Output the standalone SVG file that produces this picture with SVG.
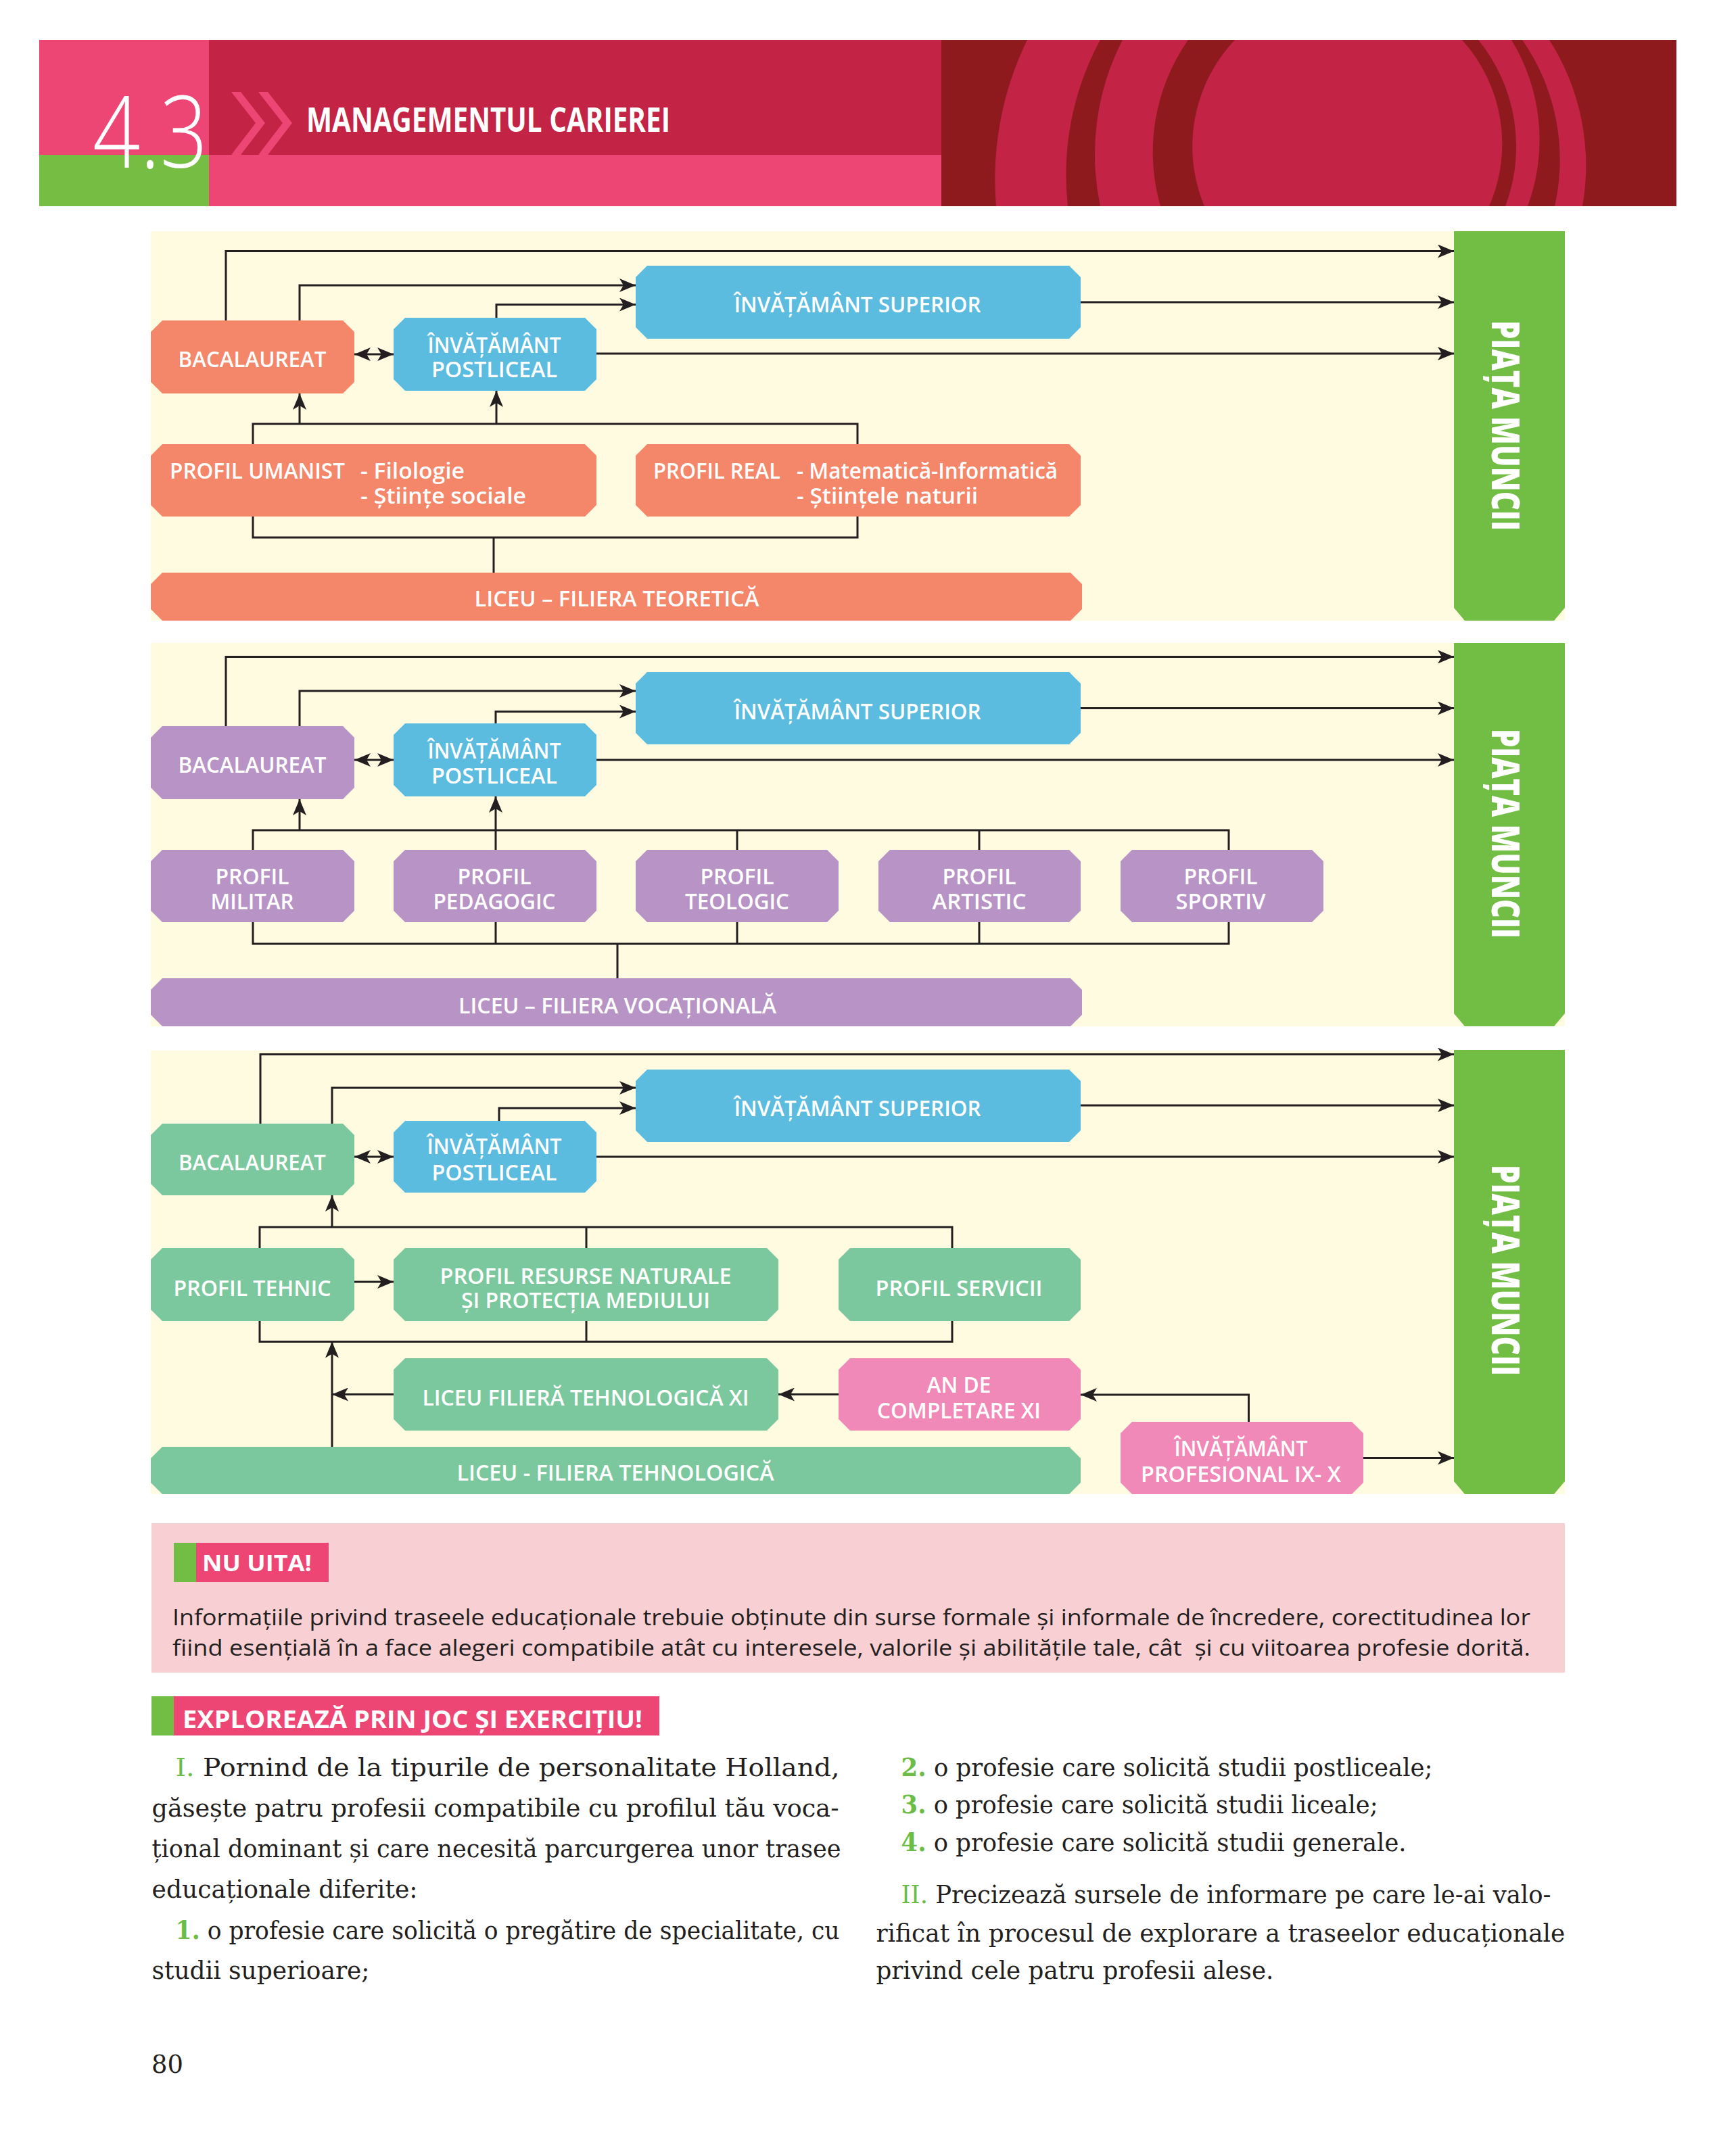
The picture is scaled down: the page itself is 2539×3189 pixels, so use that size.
<svg xmlns="http://www.w3.org/2000/svg" width="2539" height="3189" viewBox="0 0 2539 3189">
<defs>
<style>
.bg{fill:#FFFFFF}
.cream{fill:#FEFBE0}
.sal{fill:#F4866A}
.blu{fill:#5BBCDF}
.pur{fill:#B794C5}
.min{fill:#7CC89E}
.pnk{fill:#F089B7}
.gbar{fill:#72BE45}
.lab{font-family:"Open Sans","Noto Sans","Liberation Sans",sans-serif;font-weight:600;font-size:33px;fill:#FFFFFF;text-anchor:middle}
.labs{font-family:"Open Sans","Noto Sans","Liberation Sans",sans-serif;font-weight:600;font-size:33px;fill:#FFFFFF}
.pm{font-family:"Open Sans","Liberation Sans",sans-serif;font-weight:800;font-size:56px;fill:#FFFFFF}
.ln{fill:none;stroke:#231F20;stroke-width:3}
.body{font-family:"DejaVu Serif","Liberation Serif",serif;font-size:37px;fill:#231F20}
.num{fill:#6CBD45}
.note{font-family:"Open Sans","Noto Sans","Liberation Sans",sans-serif;font-size:32px;fill:#231F20}
.hd{font-family:"Open Sans","Liberation Sans",sans-serif;font-weight:700;fill:#FFFFFF}
</style>
<marker id="ah" viewBox="0 0 24 20" refX="24" refY="10" markerWidth="24" markerHeight="20" markerUnits="userSpaceOnUse" orient="auto-start-reverse">
<path d="M0,0 L24,10 L0,20 L6,10 Z" fill="#231F20"/>
</marker>
</defs>
<rect class="bg" x="0" y="0" width="2539" height="3189"/>

<!-- HEADER -->
<g id="header">
<rect x="58" y="59" width="251" height="170" fill="#EE4674"/>
<rect x="58" y="229" width="251" height="76" fill="#75BE43"/>
<rect x="309" y="59" width="1083" height="170" fill="#C32344"/>
<rect x="309" y="229" width="1083" height="76" fill="#EE4674"/>
<rect x="1392" y="59" width="1087" height="246" fill="#8E1A1E"/>
<path d="M1519,59 A470,470 0 0,0 1473,305 L1579,305 A420,420 0 0,1 1627,59 Z" fill="#C32344"/>
<path d="M1660,59 A370,370 0 0,0 1627,305 L1716,305 A290,290 0 0,1 1757,59 Z" fill="#C32344"/>
<path d="M1826,59 A229,229 0 0,0 1781,305 L2202,305 A229,229 0 0,0 2162,59 Z" fill="#C32344"/>
<path d="M2186,59 A250,250 0 0,1 2226,305 L2259,305 A283,283 0 0,0 2235,59 Z" fill="#C32344"/>
<path d="M2251,59 A310,310 0 0,1 2299,305 L2340,305 A345,345 0 0,0 2291,59 Z" fill="#C32344"/>
<polygon points="342,136 356,136 392,182 356,229 342,229 378,182" fill="#EE4674"/>
<polygon points="382,136 396,136 432,182 396,229 382,229 418,182" fill="#EE4674"/>
<text x="137" y="248" font-family="'Open Sans','Liberation Sans',sans-serif" font-weight="300" font-size="148" fill="#FFFFFF" textLength="170" lengthAdjust="spacingAndGlyphs">4.3</text>
<text class="hd" x="453" y="195" font-size="50" textLength="538" lengthAdjust="spacingAndGlyphs">MANAGEMENTUL CARIEREI</text>
</g>

<!-- SECTION BACKGROUNDS -->
<rect class="cream" x="223" y="342" width="2091" height="576"/>
<rect class="cream" x="223" y="951" width="2091" height="567"/>
<rect class="cream" x="223" y="1554" width="2091" height="656"/>

<!-- CONNECTORS -->
<g id="connectors">
<!-- section 1 -->
<path class="ln" d="M334,474 V371.5 H2150" marker-end="url(#ah)"/>
<path class="ln" d="M443,474 V422 H940" marker-end="url(#ah)"/>
<path class="ln" d="M734,470 V450.5 H940" marker-end="url(#ah)"/>
<path class="ln" d="M1598,447 H2150" marker-end="url(#ah)"/>
<path class="ln" d="M882,523 H2150" marker-end="url(#ah)"/>
<path class="ln" d="M524,524 H582" marker-start="url(#ah)" marker-end="url(#ah)"/>
<path class="ln" d="M443,627 V582" marker-end="url(#ah)"/>
<path class="ln" d="M734,627 V578" marker-end="url(#ah)"/>
<path class="ln" d="M374,657 V627 H1268 V657"/>
<path class="ln" d="M374,764 V795 H1268 V764"/>
<path class="ln" d="M730,795 V847"/>
<!-- section 2 -->
<path class="ln" d="M334,1074 V971.5 H2150" marker-end="url(#ah)"/>
<path class="ln" d="M443,1074 V1022 H940" marker-end="url(#ah)"/>
<path class="ln" d="M733,1070 V1052.5 H940" marker-end="url(#ah)"/>
<path class="ln" d="M1598,1047.5 H2150" marker-end="url(#ah)"/>
<path class="ln" d="M882,1124 H2150" marker-end="url(#ah)"/>
<path class="ln" d="M524,1124 H582" marker-start="url(#ah)" marker-end="url(#ah)"/>
<path class="ln" d="M443,1228 V1182" marker-end="url(#ah)"/>
<path class="ln" d="M733,1257 V1178" marker-end="url(#ah)"/>
<path class="ln" d="M374,1257 V1228 H1817 V1257"/>
<path class="ln" d="M1090,1228 V1257"/>
<path class="ln" d="M1448,1228 V1257"/>
<path class="ln" d="M374,1364 V1396 H1817 V1364"/>
<path class="ln" d="M733,1364 V1396"/>
<path class="ln" d="M1090,1364 V1396"/>
<path class="ln" d="M1448,1364 V1396"/>
<path class="ln" d="M913,1396 V1447"/>
<!-- section 3 -->
<path class="ln" d="M385,1662 V1559.5 H2150" marker-end="url(#ah)"/>
<path class="ln" d="M491,1662 V1609 H940" marker-end="url(#ah)"/>
<path class="ln" d="M738,1658 V1639 H940" marker-end="url(#ah)"/>
<path class="ln" d="M1598,1635 H2150" marker-end="url(#ah)"/>
<path class="ln" d="M882,1711 H2150" marker-end="url(#ah)"/>
<path class="ln" d="M524,1711 H582" marker-start="url(#ah)" marker-end="url(#ah)"/>
<path class="ln" d="M491,1815 V1768" marker-end="url(#ah)"/>
<path class="ln" d="M384,1846 V1815 H1408 V1846"/>
<path class="ln" d="M867,1815 V1846"/>
<path class="ln" d="M524,1896 H582" marker-end="url(#ah)"/>
<path class="ln" d="M384,1954 V1984.5 H1408 V1954"/>
<path class="ln" d="M867,1954 V1984.5"/>
<path class="ln" d="M491,2140 V1984.5" marker-end="url(#ah)"/>
<path class="ln" d="M582,2062.5 H491" marker-end="url(#ah)"/>
<path class="ln" d="M1240,2062.5 H1151" marker-end="url(#ah)"/>
<path class="ln" d="M1846.5,2103 V2063 H1598" marker-end="url(#ah)"/>
<path class="ln" d="M2016,2156.5 H2150" marker-end="url(#ah)"/>
</g>

<!-- SECTION 1 NODES -->
<g id="s1-superior">
<polygon class="blu" points="957,393 1581,393 1598,410 1598,484 1581,501 957,501 940,484 940,410"/>
<text class="lab" x="1268" y="462" textLength="365" lengthAdjust="spacingAndGlyphs">ÎNVĂȚĂMÂNT SUPERIOR</text>
</g>
<g id="s1-postliceal">
<polygon class="blu" points="599,470 865,470 882,487 882,561 865,578 599,578 582,561 582,487"/>
<text class="lab" x="731" y="522" textLength="197" lengthAdjust="spacingAndGlyphs">ÎNVĂȚĂMÂNT</text>
<text class="lab" x="731" y="558" textLength="186" lengthAdjust="spacingAndGlyphs">POSTLICEAL</text>
</g>
<g id="s1-bac">
<polygon class="sal" points="240,474 507,474 524,491 524,565 507,582 240,582 223,565 223,491"/>
<text class="lab" x="373" y="543" textLength="219" lengthAdjust="spacingAndGlyphs">BACALAUREAT</text>
</g>
<g id="s1-umanist">
<polygon class="sal" points="240,657 865,657 882,674 882,747 865,764 240,764 223,747 223,674"/>
<text class="labs" x="251" y="708" textLength="259" lengthAdjust="spacingAndGlyphs">PROFIL UMANIST</text>
<text class="labs" x="533" y="708" textLength="154" lengthAdjust="spacingAndGlyphs">- Filologie</text>
<text class="labs" x="533" y="745" textLength="245" lengthAdjust="spacingAndGlyphs">- Științe sociale</text>
</g>
<g id="s1-real">
<polygon class="sal" points="957,657 1581,657 1598,674 1598,747 1581,764 957,764 940,747 940,674"/>
<text class="labs" x="966" y="708" textLength="188" lengthAdjust="spacingAndGlyphs">PROFIL REAL</text>
<text class="labs" x="1178" y="708" textLength="386" lengthAdjust="spacingAndGlyphs">- Matematică-Informatică</text>
<text class="labs" x="1178" y="745" textLength="268" lengthAdjust="spacingAndGlyphs">- Științele naturii</text>
</g>
<g id="s1-liceu">
<polygon class="sal" points="240,847 1583,847 1600,864 1600,901 1583,918 240,918 223,901 223,864"/>
<text class="lab" x="912" y="897" textLength="421" lengthAdjust="spacingAndGlyphs">LICEU – FILIERA TEORETICĂ</text>
</g>
<g id="s1-piata">
<polygon class="gbar" points="2150,342 2314,342 2314,899 2298,918 2166,918 2150,899"/>
<text class="pm" transform="translate(2206,474) rotate(90)" x="0" y="0" textLength="311" lengthAdjust="spacingAndGlyphs">PIAȚA MUNCII</text>
</g>

<!-- SECTION 2 NODES -->
<g id="s2-superior">
<polygon class="blu" points="957,994 1581,994 1598,1011 1598,1084 1581,1101 957,1101 940,1084 940,1011"/>
<text class="lab" x="1268" y="1064" textLength="365" lengthAdjust="spacingAndGlyphs">ÎNVĂȚĂMÂNT SUPERIOR</text>
</g>
<g id="s2-postliceal">
<polygon class="blu" points="599,1070 865,1070 882,1087 882,1161 865,1178 599,1178 582,1161 582,1087"/>
<text class="lab" x="731" y="1122" textLength="197" lengthAdjust="spacingAndGlyphs">ÎNVĂȚĂMÂNT</text>
<text class="lab" x="731" y="1159" textLength="186" lengthAdjust="spacingAndGlyphs">POSTLICEAL</text>
</g>
<g id="s2-bac">
<polygon class="pur" points="240,1074 507,1074 524,1091 524,1165 507,1182 240,1182 223,1165 223,1091"/>
<text class="lab" x="373" y="1143" textLength="219" lengthAdjust="spacingAndGlyphs">BACALAUREAT</text>
</g>
<g id="s2-militar">
<polygon class="pur" points="240,1257 507,1257 524,1274 524,1347 507,1364 240,1364 223,1347 223,1274"/>
<text class="lab" x="373" y="1308" textLength="109" lengthAdjust="spacingAndGlyphs">PROFIL</text>
<text class="lab" x="373" y="1345" textLength="123" lengthAdjust="spacingAndGlyphs">MILITAR</text>
</g>
<g id="s2-pedagogic">
<polygon class="pur" points="599,1257 865,1257 882,1274 882,1347 865,1364 599,1364 582,1347 582,1274"/>
<text class="lab" x="731" y="1308" textLength="109" lengthAdjust="spacingAndGlyphs">PROFIL</text>
<text class="lab" x="731" y="1345" textLength="181" lengthAdjust="spacingAndGlyphs">PEDAGOGIC</text>
</g>
<g id="s2-teologic">
<polygon class="pur" points="957,1257 1223,1257 1240,1274 1240,1347 1223,1364 957,1364 940,1347 940,1274"/>
<text class="lab" x="1090" y="1308" textLength="109" lengthAdjust="spacingAndGlyphs">PROFIL</text>
<text class="lab" x="1090" y="1345" textLength="154" lengthAdjust="spacingAndGlyphs">TEOLOGIC</text>
</g>
<g id="s2-artistic">
<polygon class="pur" points="1316,1257 1581,1257 1598,1274 1598,1347 1581,1364 1316,1364 1299,1347 1299,1274"/>
<text class="lab" x="1448" y="1308" textLength="109" lengthAdjust="spacingAndGlyphs">PROFIL</text>
<text class="lab" x="1448" y="1345" textLength="139" lengthAdjust="spacingAndGlyphs">ARTISTIC</text>
</g>
<g id="s2-sportiv">
<polygon class="pur" points="1674,1257 1940,1257 1957,1274 1957,1347 1940,1364 1674,1364 1657,1347 1657,1274"/>
<text class="lab" x="1805" y="1308" textLength="109" lengthAdjust="spacingAndGlyphs">PROFIL</text>
<text class="lab" x="1805" y="1345" textLength="133" lengthAdjust="spacingAndGlyphs">SPORTIV</text>
</g>
<g id="s2-liceu">
<polygon class="pur" points="240,1447 1583,1447 1600,1464 1600,1501 1583,1518 240,1518 223,1501 223,1464"/>
<text class="lab" x="913" y="1499" textLength="470" lengthAdjust="spacingAndGlyphs">LICEU – FILIERA VOCAȚIONALĂ</text>
</g>
<g id="s2-piata">
<polygon class="gbar" points="2150,951 2314,951 2314,1499 2298,1518 2166,1518 2150,1499"/>
<text class="pm" transform="translate(2206,1078) rotate(90)" x="0" y="0" textLength="310" lengthAdjust="spacingAndGlyphs">PIAȚA MUNCII</text>
</g>

<!-- SECTION 3 NODES -->
<g id="s3-superior">
<polygon class="blu" points="957,1582 1581,1582 1598,1599 1598,1672 1581,1689 957,1689 940,1672 940,1599"/>
<text class="lab" x="1268" y="1651" textLength="365" lengthAdjust="spacingAndGlyphs">ÎNVĂȚĂMÂNT SUPERIOR</text>
</g>
<g id="s3-postliceal">
<polygon class="blu" points="599,1658 865,1658 882,1675 882,1747 865,1764 599,1764 582,1747 582,1675"/>
<text class="lab" x="731" y="1707" textLength="199" lengthAdjust="spacingAndGlyphs">ÎNVĂȚĂMÂNT</text>
<text class="lab" x="731" y="1746" textLength="185" lengthAdjust="spacingAndGlyphs">POSTLICEAL</text>
</g>
<g id="s3-bac">
<polygon class="min" points="240,1662 507,1662 524,1679 524,1751 507,1768 240,1768 223,1751 223,1679"/>
<text class="lab" x="373" y="1731" textLength="218" lengthAdjust="spacingAndGlyphs">BACALAUREAT</text>
</g>
<g id="s3-tehnic">
<polygon class="min" points="240,1846 507,1846 524,1863 524,1937 507,1954 240,1954 223,1937 223,1863"/>
<text class="lab" x="373" y="1917" textLength="233" lengthAdjust="spacingAndGlyphs">PROFIL TEHNIC</text>
</g>
<g id="s3-resurse">
<polygon class="min" points="599,1846 1134,1846 1151,1863 1151,1937 1134,1954 599,1954 582,1937 582,1863"/>
<text class="lab" x="866" y="1899" textLength="431" lengthAdjust="spacingAndGlyphs">PROFIL RESURSE NATURALE</text>
<text class="lab" x="866" y="1935" textLength="368" lengthAdjust="spacingAndGlyphs">ȘI PROTECȚIA MEDIULUI</text>
</g>
<g id="s3-servicii">
<polygon class="min" points="1257,1846 1581,1846 1598,1863 1598,1937 1581,1954 1257,1954 1240,1937 1240,1863"/>
<text class="lab" x="1418" y="1917" textLength="247" lengthAdjust="spacingAndGlyphs">PROFIL SERVICII</text>
</g>
<g id="s3-liceu-xi">
<polygon class="min" points="599,2009 1134,2009 1151,2026 1151,2099 1134,2116 599,2116 582,2099 582,2026"/>
<text class="lab" x="866" y="2079" textLength="483" lengthAdjust="spacingAndGlyphs">LICEU FILIERĂ TEHNOLOGICĂ XI</text>
</g>
<g id="s3-an-completare">
<polygon class="pnk" points="1257,2009 1581,2009 1598,2026 1598,2099 1581,2116 1257,2116 1240,2099 1240,2026"/>
<text class="lab" x="1418" y="2060" textLength="95" lengthAdjust="spacingAndGlyphs">AN DE</text>
<text class="lab" x="1418" y="2098" textLength="242" lengthAdjust="spacingAndGlyphs">COMPLETARE XI</text>
</g>
<g id="s3-profesional">
<polygon class="pnk" points="1674,2103 1999,2103 2016,2120 2016,2193 1999,2210 1674,2210 1657,2193 1657,2120"/>
<text class="lab" x="1835" y="2154" textLength="197" lengthAdjust="spacingAndGlyphs">ÎNVĂȚĂMÂNT</text>
<text class="lab" x="1835" y="2192" textLength="296" lengthAdjust="spacingAndGlyphs">PROFESIONAL IX- X</text>
</g>
<g id="s3-liceu">
<polygon class="min" points="240,2140 1581,2140 1598,2157 1598,2193 1581,2210 240,2210 223,2193 223,2157"/>
<text class="lab" x="910" y="2190" textLength="469" lengthAdjust="spacingAndGlyphs">LICEU - FILIERA TEHNOLOGICĂ</text>
</g>
<g id="s3-piata">
<polygon class="gbar" points="2150,1553 2314,1553 2314,2191 2298,2210 2166,2210 2150,2191"/>
<text class="pm" transform="translate(2206,1723) rotate(90)" x="0" y="0" textLength="312" lengthAdjust="spacingAndGlyphs">PIAȚA MUNCII</text>
</g>

<!-- NU UITA -->
<g id="nu-uita">
<rect x="224" y="2253" width="2090" height="221" fill="#F8CFD3"/>
<rect x="257" y="2282" width="33" height="58" fill="#72BE45"/>
<rect x="290" y="2282" width="196" height="58" fill="#EE4674"/>
<text class="hd" x="299" y="2324" font-size="34" textLength="162" lengthAdjust="spacingAndGlyphs">NU UITA!</text>
<text class="note" x="255" y="2404" textLength="2008" lengthAdjust="spacingAndGlyphs">Informațiile privind traseele educaționale trebuie obținute din surse formale și informale de încredere, corectitudinea lor</text>
<text class="note" x="255" y="2449" textLength="2008" lengthAdjust="spacingAndGlyphs" xml:space="preserve">fiind esențială în a face alegeri compatibile atât cu interesele, valorile și abilitățile tale, cât  și cu viitoarea profesie dorită.</text>
</g>

<!-- EXPLOREAZA -->
<g id="exploreaza">
<rect x="224" y="2509" width="33" height="58" fill="#72BE45"/>
<rect x="257" y="2509" width="718" height="58" fill="#EE4674"/>
<text class="hd" x="270" y="2556" font-size="35" textLength="680" lengthAdjust="spacingAndGlyphs">EXPLOREAZĂ PRIN JOC ȘI EXERCIȚIU!</text>
<text class="body" x="259.6" y="2627" textLength="982" lengthAdjust="spacingAndGlyphs"><tspan class="num">I.</tspan> Pornind de la tipurile de personalitate Holland,</text>
<text class="body" x="224.5" y="2687" textLength="1016" lengthAdjust="spacingAndGlyphs">găsește patru profesii compatibile cu profilul tău voca-</text>
<text class="body" x="224.5" y="2747" textLength="1019" lengthAdjust="spacingAndGlyphs">țional dominant și care necesită parcurgerea unor trasee</text>
<text class="body" x="224.5" y="2807" textLength="393" lengthAdjust="spacingAndGlyphs">educaționale diferite:</text>
<text class="body" x="259.6" y="2868" textLength="982" lengthAdjust="spacingAndGlyphs"><tspan class="num" font-weight="bold">1.</tspan> o profesie care solicită o pregătire de specialitate, cu</text>
<text class="body" x="224.5" y="2927" textLength="322" lengthAdjust="spacingAndGlyphs">studii superioare;</text>
<text class="body" x="1332.6" y="2627" textLength="786" lengthAdjust="spacingAndGlyphs"><tspan class="num" font-weight="bold">2.</tspan> o profesie care solicită studii postliceale;</text>
<text class="body" x="1332.6" y="2682" textLength="705" lengthAdjust="spacingAndGlyphs"><tspan class="num" font-weight="bold">3.</tspan> o profesie care solicită studii liceale;</text>
<text class="body" x="1332.6" y="2738" textLength="747" lengthAdjust="spacingAndGlyphs"><tspan class="num" font-weight="bold">4.</tspan> o profesie care solicită studii generale.</text>
<text class="body" x="1332.6" y="2815" textLength="961" lengthAdjust="spacingAndGlyphs"><tspan class="num">II.</tspan> Precizează sursele de informare pe care le-ai valo-</text>
<text class="body" x="1295.4" y="2872" textLength="1019" lengthAdjust="spacingAndGlyphs">rificat în procesul de explorare a traseelor educaționale</text>
<text class="body" x="1295.4" y="2927" textLength="588" lengthAdjust="spacingAndGlyphs">privind cele patru profesii alese.</text>
<text class="body" x="224" y="3066" textLength="47" lengthAdjust="spacingAndGlyphs">80</text>
</g>
</svg>
